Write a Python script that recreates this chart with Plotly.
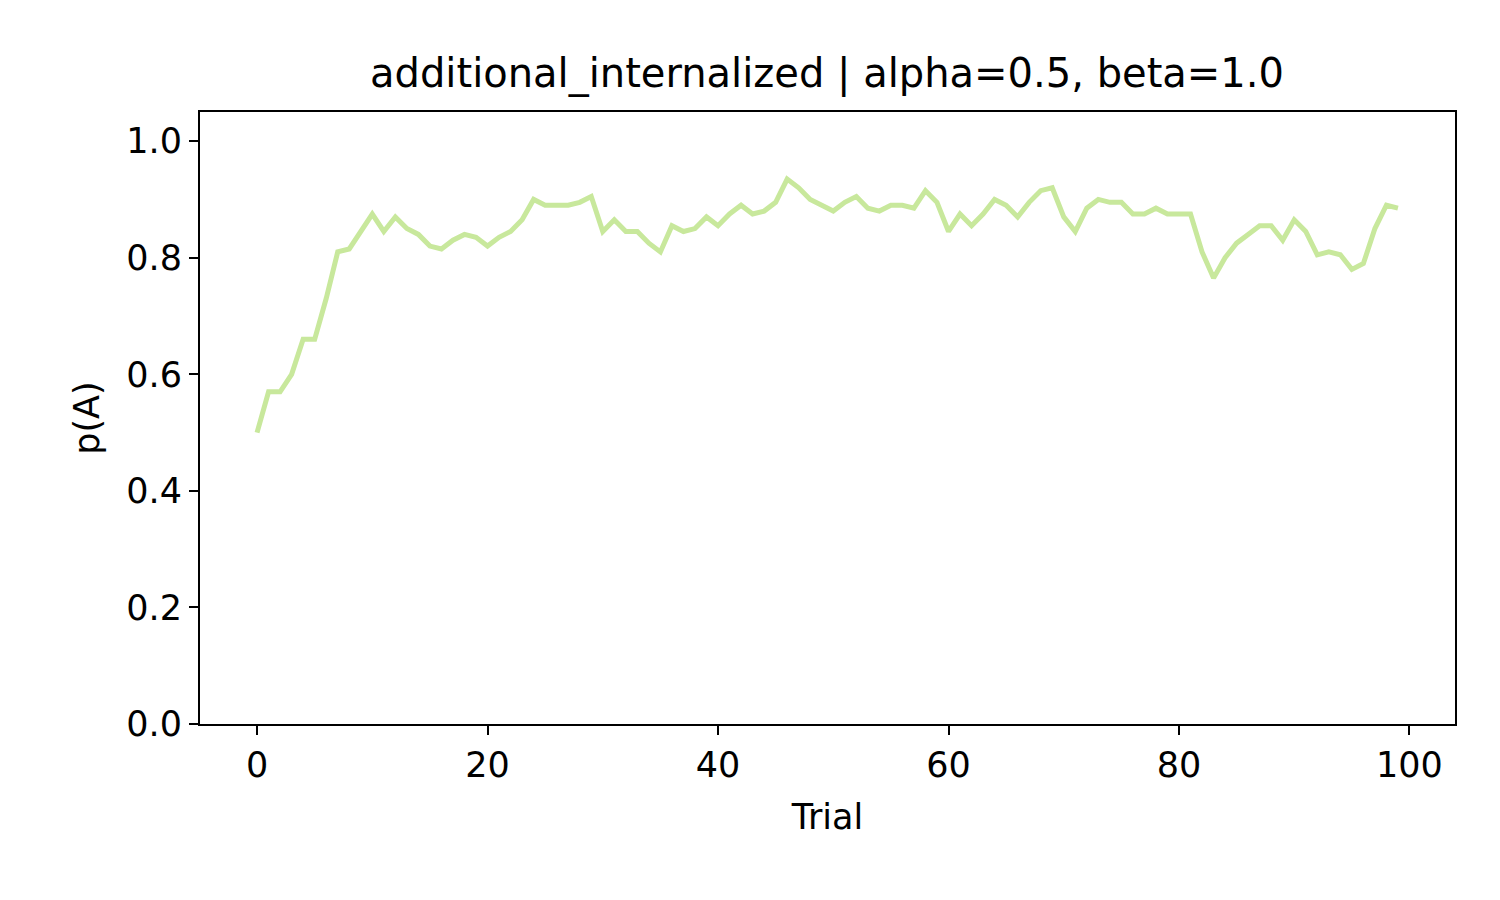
import plotly.graph_objects as go

# trial-by-trial probability of choosing A
trials = list(range(100))
p_a = [
    0.50, 0.57, 0.57, 0.60, 0.66, 0.66, 0.73, 0.81, 0.815, 0.845,
    0.875, 0.845, 0.87, 0.85, 0.84, 0.82, 0.815, 0.83, 0.84, 0.835,
    0.82, 0.835, 0.845, 0.865, 0.90, 0.89, 0.89, 0.89, 0.895, 0.905,
    0.845, 0.865, 0.845, 0.845, 0.825, 0.81, 0.855, 0.845, 0.85, 0.87,
    0.855, 0.875, 0.89, 0.875, 0.88, 0.895, 0.935, 0.92, 0.90, 0.89,
    0.88, 0.895, 0.905, 0.885, 0.88, 0.89, 0.89, 0.885, 0.915, 0.895,
    0.845, 0.875, 0.855, 0.875, 0.90, 0.89, 0.87, 0.895, 0.915, 0.92,
    0.87, 0.845, 0.885, 0.90, 0.895, 0.895, 0.875, 0.875, 0.885, 0.875,
    0.875, 0.875, 0.81, 0.765, 0.80, 0.825, 0.84, 0.855, 0.855, 0.83,
    0.865, 0.845, 0.805, 0.81, 0.805, 0.78, 0.79, 0.85, 0.89, 0.885,
]
x_ticks = [0, 20, 40, 60, 80, 100]
y_ticks = [0.0, 0.2, 0.4, 0.6, 0.8, 1.0]

fig = go.Figure()
fig.add_trace(go.Scatter(
    x=trials, y=p_a, mode="lines",
    line=dict(color="#c8e89c", width=5),
    showlegend=False,
))

axis_common = dict(
    showline=True, linecolor="black", linewidth=2, mirror=True,
    ticks="outside", ticklen=9, tickwidth=2, tickcolor="black",
    showgrid=False, zeroline=False,
    tickfont=dict(size=35, color="black"),
)
fig.update_xaxes(range=[-4.95, 103.95], tickvals=x_ticks,
                 title=dict(text="Trial", font=dict(size=35, color="black"), standoff=20),
                 **axis_common)
fig.update_yaxes(range=[0, 1.05], tickvals=y_ticks, tickformat=".1f",
                 title=dict(text="p(A)", font=dict(size=35, color="black"), standoff=16),
                 **axis_common)

fig.update_layout(
    width=1500, height=900,
    font=dict(family="DejaVu Sans", color="black"),
    plot_bgcolor="white", paper_bgcolor="white",
    margin=dict(l=192, r=53, t=104, b=184, autoexpand=False),
    title=dict(text="additional_internalized | alpha=0.5, beta=1.0",
               font=dict(size=40, color="black"),
               x=0.546, xanchor="center", y=0.928, yanchor="middle"),
)

fig.write_html("out.html")
